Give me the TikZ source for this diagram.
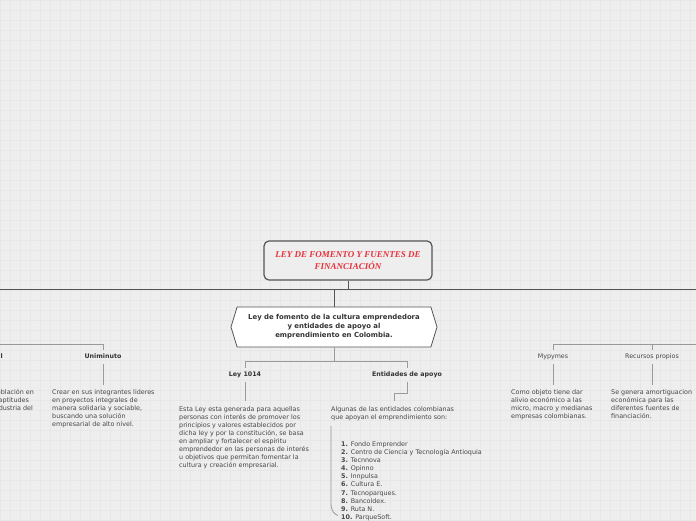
\documentclass[tikz,border=0pt]{standalone}
\usepackage{fontspec}
\usetikzlibrary{shapes.symbols}
\setmainfont{DejaVu Sans}
\newfontfamily\serifrd{Liberation Serif}
\definecolor{bgc}{HTML}{EEEEEE}
\definecolor{gridc}{HTML}{E7E7E7}
\definecolor{darkln}{HTML}{555555}
\definecolor{lightln}{HTML}{9A9A9A}
\definecolor{rootred}{HTML}{E8303A}
\definecolor{bodyc}{HTML}{474747}
\definecolor{labc}{HTML}{333333}
\begin{document}
\begin{tikzpicture}[x=1pt,y=-1pt,
  rootbox/.style={draw=darkln, line width=1.2pt, rounded corners=5pt, fill=bgc,
    minimum width=168pt, minimum height=39pt, align=center, inner sep=0pt,
    font=\serifrd\bfseries\itshape\fontsize{9}{12}\selectfont, text=rootred},
  hexbox/.style={signal, signal to=west and east, signal pointer angle=146,
    draw=darkln, line width=0.8pt, fill=white, minimum width=206pt,
    minimum height=40pt, inner sep=0pt, align=center,
    font=\bfseries\fontsize{6.9}{9}\selectfont, text=labc},
  trunk/.style={draw=darkln, line width=1pt},
  branch/.style={draw=lightln, line width=0.8pt},
  lab/.style={font=\bfseries\fontsize{6.3}{7}\selectfont, text=labc, inner sep=4pt,
    text height=4.6pt, text depth=1.4pt},
  labr/.style={font=\fontsize{6.3}{7}\selectfont, text=bodyc, inner sep=4pt,
    text height=4.6pt, text depth=1.4pt},
  body/.style={font=\fontsize{6.4}{8}\selectfont, text=bodyc, align=left,
    anchor=north west, inner sep=0pt},
]
\useasboundingbox (0,0) rectangle (696,520);
\clip (0,0) rectangle (696,520);
\fill[bgc] (0,0) rectangle (696,520);
\foreach \i in {0,10,...,690} \draw[gridc, line width=0.5pt] (\i,0) -- (\i,520);
\foreach \j in {0,10,...,520} \draw[gridc, line width=0.5pt] (0,\j) -- (696,\j);

% trunk
\coordinate (j0) at (348,289);
\coordinate (j1) at (334,289);
\coordinate (trL) at (-5,289);
\coordinate (trR) at (701,289);
\draw[trunk] (trL) -- (trR);

\node[rootbox] (root) at (348,260.5) {LEY DE FOMENTO Y FUENTES DE\\FINANCIACIÓN};
\node[hexbox] (hex) at (334,327) {Ley de fomento de la cultura emprendedora\\y entidades de apoyo al\\emprendimiento en Colombia.};
\draw[trunk] (root.south) -- (j0);
\draw[trunk] (j1) -- (hex.north);

% second level under hexagon
\coordinate (j2) at (334,361);
\node[lab] (ley) at (245,375) {Ley 1014};
\node[lab] (ent) at (407,375) {Entidades de apoyo};
\draw[branch] (hex.south) -- (j2) -| (ley.north);
\draw[branch] (j2) -| (ent.north);

\node[body] (leyt) at (179,406.4) {Esta Ley esta generada para aquellas\\personas con interés de promover los\\principios y valores establecidos por\\dicha ley y por la constitución, se basa\\en ampliar y fortalecer el espíritu\\emprendedor en las personas de interés\\u objetivos que permitan fomentar la\\cultura y creación empresarial.};
\draw[branch] (ley.south) -- ([yshift=5pt]ley.south |- leyt.north);

\node[body] (entt) at (331,406.4) {Algunas de las entidades colombianas\\que apoyan el emprendimiento son:};
\coordinate (e1) at (407,393);
\coordinate (e2) at (394,393);
\coordinate (e3) at (394,401);
\draw[branch] (ent.south) -- (e1) -- (e2) -- (e3);

\node[body, font=\fontsize{6.4}{8.1}\selectfont] (lst) at (341,441.4) {\textbf{1.} Fondo Emprender\\\textbf{2.} Centro de Ciencia y Tecnología Antioquia\\\textbf{3.} Tecnnova\\\textbf{4.} Opinno\\\textbf{5.} Innpulsa\\\textbf{6.} Cultura E.\\\textbf{7.} Tecnoparques.\\\textbf{8.} Bancoldex.\\\textbf{9.} Ruta N.\\\textbf{10.} ParqueSoft.};
\coordinate (brk) at (338,515.5);
\draw[branch] ([yshift=-5pt]entt.south west) -- (331,503) .. controls (331,511) and (334,514) .. (brk);

% left branch
\coordinate (lb) at (-10,344);
\node[lab] (uni) at (103,357) {Uniminuto};
\node[lab, anchor=east] (lft) at (7,357) {Nacional};
\draw[branch] (lb) -| (uni.north);
\node[body] (unit) at (52,389.4) {Crear en sus integrantes lideres\\en proyectos integrales de\\manera solidaria y sociable,\\buscando una solución\\empresarial de alto nivel.};
\draw[branch] (uni.south) -- ([yshift=4pt]uni.south |- unit.north);
\node[body] (lftt) at (-15,389.4) {la población en\\con aptitudes\\la industria del\\país.};

% right branch
\coordinate (rb) at (701,344);
\node[labr] (myp) at (553,357) {Mypymes};
\node[labr] (rec) at (652,357) {Recursos propios};
\draw[branch] (myp.north) |- (rb);
\draw[branch] (rec.north) |- (rb);
\node[body] (myt) at (511,389.4) {Como objeto tiene dar\\alivio económico a las\\micro, macro y medianas\\empresas colombianas.};
\node[body] (rect) at (611,389.4) {Se genera amortiguacion\\económica para las\\diferentes fuentes de\\financiación.};
\draw[branch] (myp.south) -- ([yshift=4pt]myp.south |- myt.north);
\draw[branch] (rec.south) -- ([yshift=4pt]rec.south |- rect.north);
\end{tikzpicture}
\end{document}
